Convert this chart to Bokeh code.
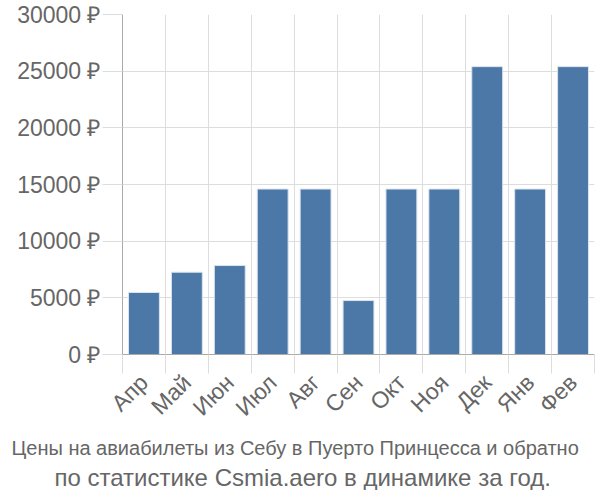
import math
from bokeh.plotting import figure
from bokeh.models import FixedTicker, Title, ColumnDataSource, Range1d
from bokeh.embed import file_html
from bokeh.resources import INLINE

months = ["Апр", "Май", "Июн", "Июл", "Авг", "Сен", "Окт", "Ноя", "Дек", "Янв", "Фев"]
prices = [5470, 7260, 7850, 14600, 14600, 4760, 14600, 14600, 25400, 14600, 25400]
y_ticks = [0, 5000, 10000, 15000, 20000, 25000, 30000]
title_line1 = "Цены на авиабилеты из Себу в Пуерто Принцесса и обратно"
title_line2 = "по статистике Csmia.aero в динамике за год."

n = len(months)
centers = [i + 0.5 for i in range(n)]
bounds = list(range(n + 1))

src = ColumnDataSource(dict(x=centers, top=prices))

W, H = 596, 490
p = figure(width=W, height=H, output_backend="svg", toolbar_location=None,
           x_range=Range1d(0, n), y_range=Range1d(0, 30000),
           min_border_left=122, min_border_top=14, min_border_right=2,
           min_border_bottom=136)
p.outline_line_color = None
p.background_fill_color = "white"

p.vbar(x="x", top="top", width=0.72, source=src, fill_color="#4c78a8",
       line_color="#dbe4ee", line_width=1)

# grids
p.xgrid.ticker = FixedTicker(ticks=bounds)
p.ygrid.ticker = FixedTicker(ticks=y_ticks)
for g in (p.xgrid[0], p.ygrid[0]):
    g.grid_line_color = "#dddddd"
    g.grid_line_width = 1

# x axis
xa = p.xaxis[0]
xa.ticker = FixedTicker(ticks=centers, minor_ticks=bounds)
xa.major_label_overrides = {c: m for c, m in zip(centers, months)}
xa.major_tick_line_color = None
xa.major_tick_out = 24
xa.major_tick_in = 0
xa.minor_tick_line_color = "#dddddd"
xa.minor_tick_out = 19
xa.minor_tick_in = 0
xa.axis_line_color = "#aaaaaa"
xa.major_label_orientation = math.pi / 4
xa.major_label_text_font = "Liberation Sans"
xa.major_label_text_font_size = "23px"
xa.major_label_text_color = "#666666"
xa.major_label_standoff = 0

# y axis
ya = p.yaxis[0]
ya.ticker = FixedTicker(ticks=y_ticks)
ya.major_label_overrides = {t: f"{t} ₽" for t in y_ticks}
ya.major_tick_line_color = "#dddddd"
ya.major_tick_out = 20
ya.major_tick_in = 0
ya.minor_tick_line_color = None
ya.axis_line_color = "#aaaaaa"
ya.major_label_text_font = "Liberation Sans"
ya.major_label_text_font_size = "23px"
ya.major_label_text_color = "#666666"
ya.major_label_standoff = 2

t1 = Title(text=title_line1, align="left", offset=-111, text_font="Liberation Sans",
           text_font_size="20px", text_font_style="normal", text_color="#666666",
           standoff=5)
t2 = Title(text=title_line2, align="left", offset=-68, text_font="Liberation Sans",
           text_font_size="24px", text_font_style="normal", text_color="#666666",
           standoff=0)
p.add_layout(t1, "below")
p.add_layout(t2, "below")

open("out.html", "w").write(file_html(p, INLINE))
